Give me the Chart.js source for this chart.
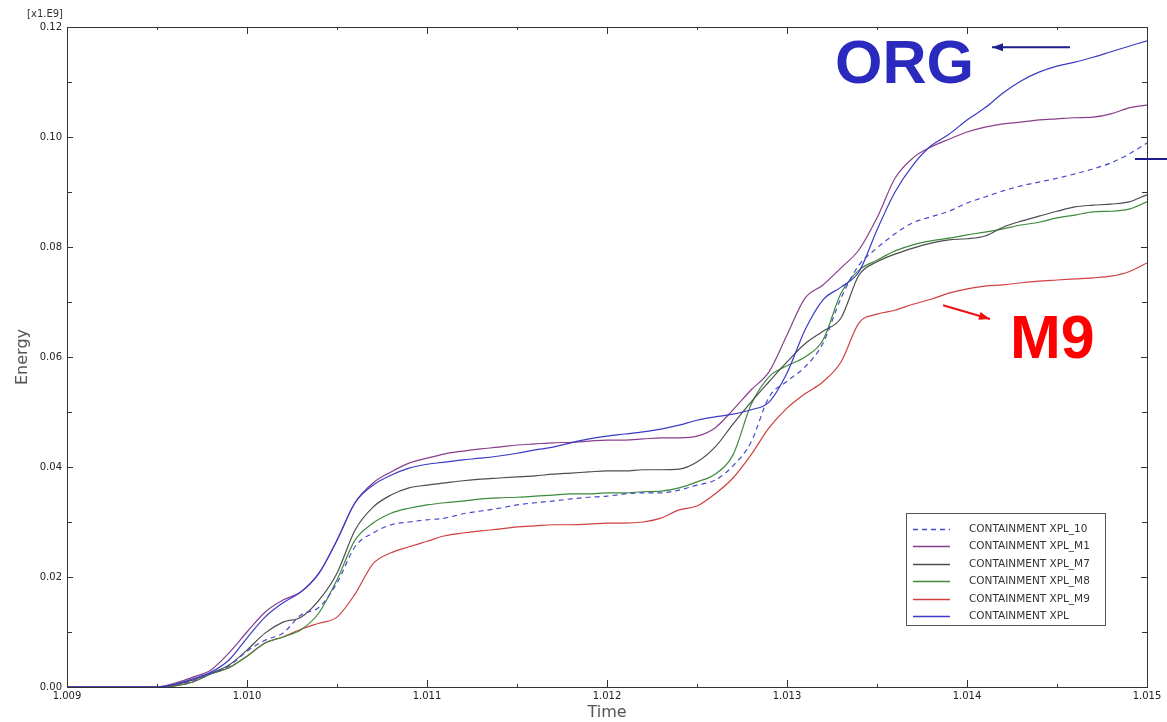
<!DOCTYPE html>
<html>
<head>
<meta charset="utf-8">
<script src="https://cdn.jsdelivr.net/npm/chart.js@4.4.1/dist/chart.umd.min.js"></script>
<style>
  html, body { margin: 0; padding: 0; background: #fff; }
  canvas { display: block; }
</style>
</head>
<body>
<canvas id="energyChart" width="1167" height="722"></canvas>
<script>
// sample times (s)
const times = [
  1.0090, 1.0091, 1.0092, 1.0093, 1.0094, 1.0095, 1.0096, 1.0097, 1.0098, 1.0099,
  1.0100, 1.0101, 1.0102, 1.0103, 1.0104, 1.0105, 1.0106, 1.0107, 1.0108, 1.0109,
  1.0110, 1.0111, 1.0112, 1.0113, 1.0114, 1.0115, 1.0116, 1.0117, 1.0118, 1.0119,
  1.0120, 1.0121, 1.0122, 1.0123, 1.0124, 1.0125, 1.0126, 1.0127, 1.0128, 1.0129,
  1.0130, 1.0131, 1.0132, 1.0133, 1.0134, 1.0135, 1.0136, 1.0137, 1.0138, 1.0139,
  1.0140, 1.0141, 1.0142, 1.0143, 1.0144, 1.0145, 1.0146, 1.0147, 1.0148, 1.0149,
  1.0150
];

// energy, in units of 1e9
const xpl10 = [
  0, 0, 0, 0, 0, 0, 0.0004, 0.0011, 0.0024, 0.0038,
  0.0065, 0.0085, 0.0098, 0.0131, 0.0145, 0.0189, 0.0255, 0.0280, 0.0295, 0.0300,
  0.0304, 0.0307, 0.0315, 0.0320, 0.0325, 0.0331, 0.0335, 0.0338, 0.0342, 0.0345,
  0.0347, 0.0351, 0.0353, 0.0353, 0.0358, 0.0367, 0.0376, 0.0402, 0.0445, 0.0527,
  0.0556, 0.0582, 0.0625, 0.0707, 0.0767, 0.0798, 0.0824, 0.0844, 0.0855, 0.0865,
  0.0880, 0.0891, 0.0902, 0.0911, 0.0918, 0.0925, 0.0933, 0.0942, 0.0953, 0.0969,
  0.0989
];
const xplM1 = [
  0, 0, 0, 0, 0, 0, 0.0007, 0.0018, 0.0031, 0.0062,
  0.0100, 0.0136, 0.0158, 0.0173, 0.0207, 0.0267, 0.0335, 0.0371, 0.0391, 0.0407,
  0.0416, 0.0424, 0.0429, 0.0433, 0.0436, 0.0440, 0.0442, 0.0444, 0.0445, 0.0447,
  0.0449, 0.0449, 0.0451, 0.0453, 0.0453, 0.0456, 0.0471, 0.0504, 0.0540, 0.0573,
  0.0640, 0.0707, 0.0731, 0.0762, 0.0795, 0.0853, 0.0925, 0.0962, 0.0982, 0.0996,
  0.1009, 0.1018, 0.1024, 0.1027, 0.1031, 0.1033, 0.1035, 0.1036, 0.1042, 0.1053,
  0.1058
];
const xplM7 = [
  0, 0, 0, 0, 0, 0, 0.0004, 0.0013, 0.0025, 0.0040,
  0.0067, 0.0098, 0.0118, 0.0127, 0.0158, 0.0207, 0.0285, 0.0327, 0.0349, 0.0362,
  0.0367, 0.0371, 0.0375, 0.0378, 0.0380, 0.0382, 0.0384, 0.0387, 0.0389, 0.0391,
  0.0393, 0.0393, 0.0395, 0.0395, 0.0396, 0.0409, 0.0436, 0.0478, 0.0518, 0.0555,
  0.0591, 0.0624, 0.0647, 0.0671, 0.0749, 0.0773, 0.0787, 0.0798, 0.0807, 0.0813,
  0.0815, 0.0820, 0.0836, 0.0847, 0.0856, 0.0865, 0.0873, 0.0876, 0.0878, 0.0882,
  0.0895
];
const xplM8 = [
  0, 0, 0, 0, 0, 0, 0.0002, 0.0009, 0.0024, 0.0035,
  0.0056, 0.0080, 0.0091, 0.0104, 0.0135, 0.0195, 0.0267, 0.0298, 0.0316, 0.0325,
  0.0331, 0.0335, 0.0338, 0.0342, 0.0344, 0.0345, 0.0347, 0.0349, 0.0351, 0.0351,
  0.0353, 0.0353, 0.0355, 0.0356, 0.0362, 0.0373, 0.0387, 0.0422, 0.0513, 0.0564,
  0.0584, 0.0600, 0.0631, 0.0716, 0.0758, 0.0776, 0.0793, 0.0804, 0.0811, 0.0816,
  0.0822, 0.0827, 0.0833, 0.0840, 0.0845, 0.0853, 0.0858, 0.0864, 0.0865, 0.0869,
  0.0882
];
const xplM9 = [
  0, 0, 0, 0, 0, 0, 0.0002, 0.0009, 0.0024, 0.0035,
  0.0056, 0.0080, 0.0091, 0.0105, 0.0116, 0.0127, 0.0169, 0.0224, 0.0244, 0.0255,
  0.0265, 0.0275, 0.0280, 0.0284, 0.0287, 0.0291, 0.0293, 0.0295, 0.0295, 0.0296,
  0.0298, 0.0298, 0.0300, 0.0307, 0.0322, 0.0329, 0.0351, 0.0380, 0.0422, 0.0471,
  0.0507, 0.0533, 0.0555, 0.0591, 0.0662, 0.0678, 0.0685, 0.0696, 0.0705, 0.0716,
  0.0724, 0.0729, 0.0731, 0.0735, 0.0738, 0.0740, 0.0742, 0.0744, 0.0747, 0.0755,
  0.0771
];
const xpl = [
  0, 0, 0, 0, 0, 0, 0.0005, 0.0015, 0.0027, 0.0049,
  0.0089, 0.0127, 0.0153, 0.0173, 0.0207, 0.0267, 0.0335, 0.0367, 0.0385, 0.0398,
  0.0405, 0.0409, 0.0413, 0.0416, 0.0420, 0.0425, 0.0431, 0.0436, 0.0444, 0.0451,
  0.0456, 0.0460, 0.0464, 0.0469, 0.0476, 0.0485, 0.0491, 0.0496, 0.0504, 0.0518,
  0.0571, 0.0649, 0.0704, 0.0727, 0.0755, 0.0831, 0.0900, 0.0949, 0.0984, 0.1005,
  0.1031, 0.1053, 0.1080, 0.1102, 0.1118, 0.1129, 0.1136, 0.1145, 0.1155, 0.1165,
  0.1175
];

const seriesLabels = [
  'CONTAINMENT XPL_10',
  'CONTAINMENT XPL_M1',
  'CONTAINMENT XPL_M7',
  'CONTAINMENT XPL_M8',
  'CONTAINMENT XPL_M9',
  'CONTAINMENT XPL'
];
const seriesValues = [xpl10, xplM1, xplM7, xplM8, xplM9, xpl];
const seriesColors = ['#4a4ac8', '#8a3f8c', '#4d4d4d', '#3d8a3d', '#cf4040', '#3b3bc6'];

const TICK_FONT = { family: 'DejaVu Sans', size: 10 };

function isStep(v, step) {
  const r = v / step;
  return Math.abs(r - Math.round(r)) < 1e-6;
}

// box round the plot with inward tick marks on all four sides
const framePlugin = {
  id: 'frame',
  afterDraw(chart) {
    const { ctx, chartArea: a, scales: { x, y } } = chart;
    ctx.save();
    ctx.strokeStyle = '#333';
    ctx.lineWidth = 1;
    ctx.strokeRect(a.left + 0.5, a.top + 0.5, a.right - a.left, a.bottom - a.top);
    ctx.beginPath();
    x.ticks.forEach(t => {
      const px = Math.round(x.getPixelForValue(t.value)) + 0.5;
      const len = t.label ? 7 : 3;
      ctx.moveTo(px, a.bottom); ctx.lineTo(px, a.bottom - len);
      ctx.moveTo(px, a.top); ctx.lineTo(px, a.top + len);
    });
    y.ticks.forEach(t => {
      const py = Math.round(y.getPixelForValue(t.value)) + 0.5;
      const len = t.label ? 6 : 5;
      ctx.moveTo(a.left, py); ctx.lineTo(a.left + len, py);
      ctx.moveTo(a.right, py); ctx.lineTo(a.right - len, py);
    });
    ctx.stroke();

    // axis multiplier above the y labels
    ctx.fillStyle = '#333';
    ctx.font = '10px "DejaVu Sans"';
    ctx.textAlign = 'right';
    ctx.textBaseline = 'middle';
    ctx.fillText('[x1.E9]', a.left - 4, a.top - 13);
    ctx.restore();
  }
};

// boxed legend in the lower right of the plot
const legendBoxPlugin = {
  id: 'legendBox',
  afterDraw(chart) {
    const { ctx, chartArea: a } = chart;
    const left = a.right - 241, top = a.bottom - 174;
    const w = 199, h = 112, rowH = 17.4;
    ctx.save();
    ctx.fillStyle = '#fff';
    ctx.fillRect(left, top, w, h);
    ctx.strokeStyle = '#555';
    ctx.lineWidth = 1;
    ctx.strokeRect(left + 0.5, top + 0.5, w, h);
    ctx.font = '10.5px "DejaVu Sans"';
    ctx.textBaseline = 'middle';
    ctx.textAlign = 'left';
    chart.data.datasets.forEach((ds, i) => {
      const cy = Math.round(top + 16 + i * rowH) + 0.5;
      ctx.strokeStyle = ds.borderColor;
      ctx.lineWidth = 1.5;
      ctx.setLineDash(ds.borderDash || []);
      ctx.beginPath();
      ctx.moveTo(left + 7, cy);
      ctx.lineTo(left + 44, cy);
      ctx.stroke();
      ctx.setLineDash([]);
      ctx.fillStyle = '#333';
      ctx.fillText(ds.label, left + 63, cy);
    });
    ctx.restore();
  }
};

// call-outs, anchored in data coordinates
const callouts = {
  org: { text: 'ORG', x: 1.013267, y: 0.1099, color: '#2a2abf' },
  orgArrow: { from: [1.014572, 0.1163], to: [1.014139, 0.1163], color: '#1e1e8c' },
  mark: { from: [1.014933, 0.0960], to: [1.015111, 0.0960], color: '#1e1e8c' },
  m9: { text: 'M9', x: 1.014239, y: 0.0598, color: '#ff0000' },
  m9Arrow: { from: [1.013867, 0.0694], to: [1.014128, 0.0669], color: '#f01010' }
};

function arrow(ctx, x1, y1, x2, y2, color, head) {
  ctx.strokeStyle = color;
  ctx.fillStyle = color;
  ctx.lineWidth = 2;
  ctx.beginPath();
  ctx.moveTo(x1, y1);
  ctx.lineTo(x2, y2);
  ctx.stroke();
  if (!head) return;
  const ang = Math.atan2(y2 - y1, x2 - x1);
  ctx.beginPath();
  ctx.moveTo(x2, y2);
  ctx.lineTo(x2 - 11 * Math.cos(ang) + 4 * Math.sin(ang), y2 - 11 * Math.sin(ang) - 4 * Math.cos(ang));
  ctx.lineTo(x2 - 11 * Math.cos(ang) - 4 * Math.sin(ang), y2 - 11 * Math.sin(ang) + 4 * Math.cos(ang));
  ctx.closePath();
  ctx.fill();
}

const calloutPlugin = {
  id: 'callouts',
  afterDraw(chart) {
    const { ctx, scales: { x, y } } = chart;
    const px = v => x.getPixelForValue(v);
    const py = v => y.getPixelForValue(v);
    ctx.save();
    ctx.font = 'bold 61px "Liberation Sans", Arial, sans-serif';
    ctx.textAlign = 'left';
    ctx.textBaseline = 'alphabetic';
    [callouts.org, callouts.m9].forEach(c => {
      ctx.fillStyle = c.color;
      ctx.fillText(c.text, px(c.x), py(c.y));
    });
    [callouts.orgArrow, callouts.m9Arrow].forEach(c => {
      arrow(ctx, px(c.from[0]), py(c.from[1]), px(c.to[0]), py(c.to[1]), c.color, true);
    });
    const m = callouts.mark;
    arrow(ctx, px(m.from[0]), py(m.from[1]), px(m.to[0]), py(m.to[1]), m.color, false);
    ctx.restore();
  }
};

const datasets = seriesLabels.map((label, i) => ({
  label,
  data: times.map((t, k) => ({ x: t, y: seriesValues[i][k] })),
  borderColor: seriesColors[i],
  backgroundColor: seriesColors[i],
  borderWidth: 1.2,
  borderDash: i === 0 ? [5, 4] : [],
  pointRadius: 0,
  cubicInterpolationMode: 'monotone',
  fill: false,
  order: i === 5 ? 0 : i + 1
}));

const config = {
  type: 'line',
  data: { datasets },
  options: {
    responsive: false,
    animation: false,
    layout: { padding: { top: 27, right: 20, left: 0, bottom: 0 } },
    plugins: {
      legend: { display: false },
      tooltip: { enabled: false }
    },
    scales: {
      x: {
        type: 'linear',
        min: 1.009,
        max: 1.015,
        grid: { display: false, drawTicks: false },
        border: { display: false },
        ticks: {
          stepSize: 0.0005,
          maxTicksLimit: 30,
          autoSkip: false,
          maxRotation: 0,
          padding: 3,
          color: '#222',
          font: TICK_FONT,
          callback: v => (isStep(v, 0.001) ? v.toFixed(3) : '')
        },
        title: {
          display: true,
          text: 'Time',
          color: '#555',
          font: { family: 'DejaVu Sans', size: 16 },
          padding: { top: 0, bottom: 0 }
        },
        afterFit: s => { s.height = 35; }
      },
      y: {
        min: 0,
        max: 0.12,
        grid: { display: false, drawTicks: false },
        border: { display: false },
        ticks: {
          stepSize: 0.01,
          maxTicksLimit: 30,
          autoSkip: false,
          padding: 5,
          color: '#222',
          font: TICK_FONT,
          callback: v => (Math.round(v * 100) % 2 === 0 ? v.toFixed(2) : '')
        },
        title: {
          display: true,
          text: 'Energy',
          color: '#555',
          font: { family: 'DejaVu Sans', size: 16 },
          padding: { top: 13, bottom: 0 }
        },
        afterFit: s => { s.width = 67; }
      }
    }
  },
  plugins: [framePlugin, legendBoxPlugin, calloutPlugin]
};

const energyChart = new Chart(document.getElementById('energyChart'), config);
</script>
</body>
</html>
